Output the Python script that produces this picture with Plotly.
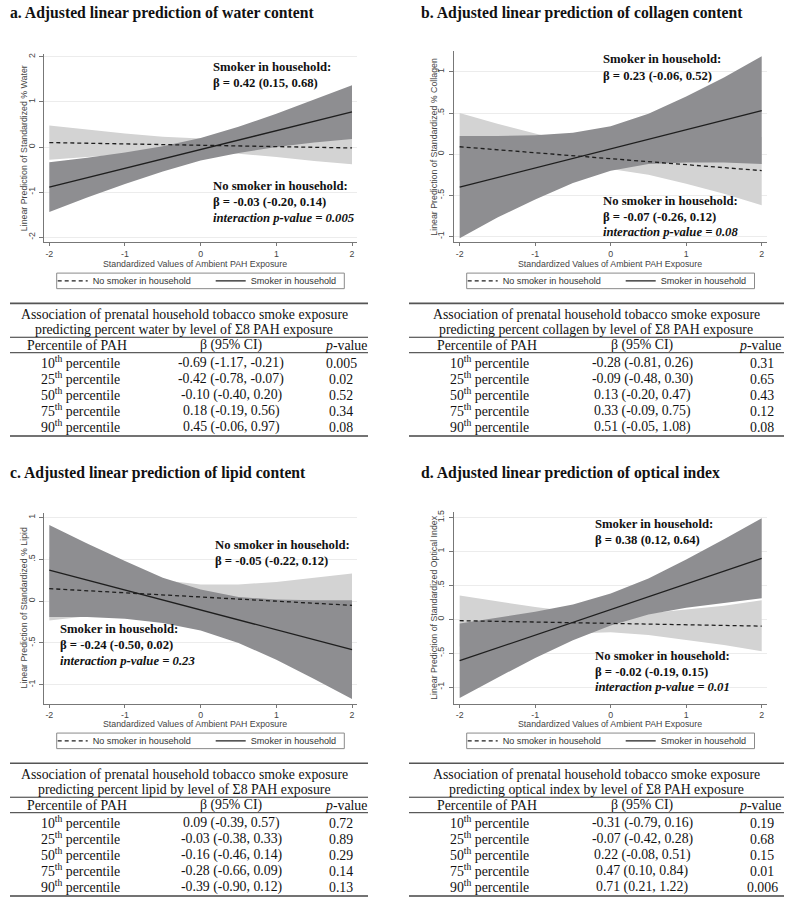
import plotly.graph_objects as go

W, H = 787, 897

# ---------------- data ----------------
PAH_X = [-2, -1.5, -1, -0.5, 0, 0.5, 1, 1.5, 2]
FIT_X = [-2, 2]

# a. water
water_smoker_fit = [-0.89, 0.78]
water_nosmoker_fit = [0.10, -0.02]
water_smoker_hi = [-0.34, -0.24, -0.12, 0.02, 0.20, 0.45, 0.74, 1.06, 1.37]
water_smoker_lo = [-1.44, -1.12, -0.82, -0.54, -0.30, -0.13, 0.00, 0.10, 0.18]
water_nosmoker_hi = [0.48, 0.39, 0.30, 0.23, 0.19, 0.20, 0.24, 0.30, 0.34]
water_nosmoker_lo = [-0.28, -0.22, -0.16, -0.12, -0.11, -0.15, -0.22, -0.31, -0.38]

# b. collagen
collagen_smoker_fit = [-0.40, 0.53]
collagen_nosmoker_fit = [0.09, -0.20]
collagen_smoker_hi = [0.22, 0.22, 0.23, 0.26, 0.34, 0.49, 0.70, 0.93, 1.19]
collagen_smoker_lo = [-1.02, -0.77, -0.55, -0.35, -0.20, -0.12, -0.10, -0.10, -0.12]
collagen_nosmoker_hi = [0.50, 0.37, 0.25, 0.14, 0.07, 0.06, 0.10, 0.16, 0.21]
collagen_nosmoker_lo = [-0.32, -0.27, -0.21, -0.17, -0.18, -0.25, -0.36, -0.48, -0.62]

# c. lipid
lipid_smoker_fit = [0.37, -0.58]
lipid_nosmoker_fit = [0.15, -0.05]
lipid_smoker_hi = [0.91, 0.69, 0.48, 0.28, 0.14, 0.05, 0.02, 0.01, 0.01]
lipid_smoker_lo = [-0.19, -0.19, -0.21, -0.26, -0.35, -0.50, -0.70, -0.93, -1.17]
lipid_nosmoker_hi = [0.53, 0.43, 0.33, 0.25, 0.20, 0.20, 0.23, 0.28, 0.33]
lipid_nosmoker_lo = [-0.23, -0.18, -0.13, -0.10, -0.10, -0.15, -0.23, -0.33, -0.43]

# d. optical index
optical_smoker_fit = [-0.61, 0.90]
optical_nosmoker_fit = [-0.02, -0.10]
optical_smoker_hi = [-0.06, 0.02, 0.11, 0.22, 0.38, 0.60, 0.88, 1.18, 1.49]
optical_smoker_lo = [-1.16, -0.86, -0.57, -0.31, -0.09, 0.07, 0.17, 0.24, 0.31]
optical_nosmoker_hi = [0.35, 0.26, 0.18, 0.11, 0.07, 0.09, 0.14, 0.20, 0.28]
optical_nosmoker_lo = [-0.40, -0.32, -0.26, -0.21, -0.19, -0.23, -0.30, -0.38, -0.47]

# tick labels
ticks_water = [-2, -1, 0, 1, 2]
ticklabels_water = ["-2", "-1", "0", "1", "2"]
ticks_half = [-1, -0.5, 0, 0.5, 1]
ticklabels_half = ["-1", "-.5", "0", ".5", "1"]
ticks_optical = [-1, -0.5, 0, 0.5, 1, 1.5]
ticklabels_optical = ["-1", "-.5", "0", ".5", "1", "1.5"]
x_ticks = [-2, -1, 0, 1, 2]
x_ticklabels = ["-2", "-1", "0", "1", "2"]

# tables
percentiles = ["10", "25", "50", "75", "90"]
water_beta = [-0.69, -0.42, -0.10, 0.18, 0.45]
water_lo = [-1.17, -0.78, -0.40, -0.19, -0.06]
water_hi = [-0.21, -0.07, 0.20, 0.56, 0.97]
water_p = ["0.005", "0.02", "0.52", "0.34", "0.08"]
collagen_beta = [-0.28, -0.09, 0.13, 0.33, 0.51]
collagen_lo = [-0.81, -0.48, -0.20, -0.09, -0.05]
collagen_hi = [0.26, 0.30, 0.47, 0.75, 1.08]
collagen_p = ["0.31", "0.65", "0.43", "0.12", "0.08"]
lipid_beta = [0.09, -0.03, -0.16, -0.28, -0.39]
lipid_lo = [-0.39, -0.38, -0.46, -0.66, -0.90]
lipid_hi = [0.57, 0.33, 0.14, 0.09, 0.12]
lipid_p = ["0.72", "0.89", "0.29", "0.14", "0.13"]
optical_beta = [-0.31, -0.07, 0.22, 0.47, 0.71]
optical_lo = [-0.79, -0.42, -0.08, 0.10, 0.21]
optical_hi = [0.16, 0.28, 0.51, 0.84, 1.22]
optical_p = ["0.19", "0.68", "0.15", "0.01", "0.006"]

# ---------------- styling ----------------
DARK = "#8e8e91"
LIGHT = "#d3d3d3"
LINE = "#1e1e1e"
AXC = "#777777"
SANS = "Liberation Sans, Arial, sans-serif"
SERIF = "Liberation Serif, Times New Roman, serif"


def px(v):
    return v / W


def py(v):
    return 1 - v / H


LEFT_TABLE = dict(x0=10, x1=368, tc=184, c1=80, c2=231, c3h=346, c3v=341)
RIGHT_TABLE = dict(x0=409, x1=784, tc=596, c1=490, c2=642, c3h=760, c3v=762)

panels = [
    dict(title="a. Adjusted linear prediction of water content",
         ylab="Linear Prediction of Standardized % Water",
         sm_fit=water_smoker_fit, ns_fit=water_nosmoker_fit,
         sm_hi=water_smoker_hi, sm_lo=water_smoker_lo,
         ns_hi=water_nosmoker_hi, ns_lo=water_nosmoker_lo,
         yt=ticks_water, ytl=ticklabels_water,
         beta=water_beta, lo=water_lo, hi=water_hi, p=water_p, outcome="percent water",
         tx=8, xt=195, oy=0, lg=(56.7, 344.3), tb=LEFT_TABLE,
         xdom=(44.3, 357.3), ydom=(51.7, 240.7),
         xr=[-2.066, 2.07], yr=[-2.11, 2.073],
         notes=[(210.7, 65, "<b>Smoker in household:</b>"),
                (210.7, 81, "<b>β = 0.42 (0.15, 0.68)</b>"),
                (210.7, 184.3, "<b>No smoker in household:</b>"),
                (210.7, 200.5, "<b>β = -0.03 (-0.20, 0.14)</b>"),
                (210.7, 216.7, "<b><i>interaction p-value = 0.005</i></b>")]),
    dict(title="b. Adjusted linear prediction of collagen content",
         ylab="Linear Prediction of Standardized % Collagen",
         sm_fit=collagen_smoker_fit, ns_fit=collagen_nosmoker_fit,
         sm_hi=collagen_smoker_hi, sm_lo=collagen_smoker_lo,
         ns_hi=collagen_nosmoker_hi, ns_lo=collagen_nosmoker_lo,
         yt=ticks_half, ytl=ticklabels_half,
         beta=collagen_beta, lo=collagen_lo, hi=collagen_hi, p=collagen_p, outcome="percent collagen",
         tx=419, xt=610, oy=0, lg=(466.7, 754.5), tb=RIGHT_TABLE,
         xdom=(454, 767.3), ydom=(49.3, 240.7),
         xr=[-2.075, 2.074], yr=[-1.069, 1.251],
         notes=[(600.7, 57.3, "<b>Smoker in household:</b>"),
                (600.7, 74, "<b>β = 0.23 (-0.06, 0.52)</b>"),
                (600.7, 199, "<b>No smoker in household:</b>"),
                (600.7, 215, "<b>β = -0.07 (-0.26, 0.12)</b>"),
                (600.7, 230.7, "<b><i>interaction p-value = 0.08</i></b>")]),
    dict(title="c. Adjusted linear prediction of lipid content",
         ylab="Linear Prediction of Standardized % Lipid",
         sm_fit=lipid_smoker_fit, ns_fit=lipid_nosmoker_fit,
         sm_hi=lipid_smoker_hi, sm_lo=lipid_smoker_lo,
         ns_hi=lipid_nosmoker_hi, ns_lo=lipid_nosmoker_lo,
         yt=ticks_half, ytl=ticklabels_half,
         beta=lipid_beta, lo=lipid_lo, hi=lipid_hi, p=lipid_p, outcome="percent lipid",
         tx=8, xt=195, oy=461, lg=(56.7, 344.3), tb=LEFT_TABLE,
         xdom=(44.3, 357.3), ydom=(511.7, 703.3),
         xr=[-2.066, 2.07], yr=[-1.227, 1.06],
         notes=[(213.3, 544.3, "<b>No smoker in household:</b>"),
                (213.3, 560, "<b>β = -0.05 (-0.22, 0.12)</b>"),
                (57.7, 628.3, "<b>Smoker in household:</b>"),
                (57.7, 644, "<b>β = -0.24 (-0.50, 0.02)</b>"),
                (57.7, 660, "<b><i>interaction p-value = 0.23</i></b>")]),
    dict(title="d. Adjusted linear prediction of optical index",
         ylab="Linear Prediction of Standardized Optical Index",
         sm_fit=optical_smoker_fit, ns_fit=optical_nosmoker_fit,
         sm_hi=optical_smoker_hi, sm_lo=optical_smoker_lo,
         ns_hi=optical_nosmoker_hi, ns_lo=optical_nosmoker_lo,
         yt=ticks_optical, ytl=ticklabels_optical,
         beta=optical_beta, lo=optical_lo, hi=optical_hi, p=optical_p, outcome="optical index",
         tx=419, xt=610, oy=461, lg=(466.7, 754.5), tb=RIGHT_TABLE,
         xdom=(454, 767.3), ydom=(511, 703.3),
         xr=[-2.075, 2.074], yr=[-1.244, 1.584],
         notes=[(593.3, 523.3, "<b>Smoker in household:</b>"),
                (593.3, 539.3, "<b>β = 0.38 (0.12, 0.64)</b>"),
                (593.3, 655, "<b>No smoker in household:</b>"),
                (593.3, 671, "<b>β = -0.02 (-0.19, 0.15)</b>"),
                (593.3, 686.7, "<b><i>interaction p-value = 0.01</i></b>")]),
]

fig = go.Figure()
annotations = []
shapes = []
layout = {}

for i, pnl in enumerate(panels):
    n = "" if i == 0 else str(i + 1)
    xa, ya = "x" + n, "y" + n
    leg = "legend" + n
    # CI bands
    fig.add_trace(go.Scatter(x=PAH_X + PAH_X[::-1], y=pnl["ns_hi"] + pnl["ns_lo"][::-1],
                             fill="toself", fillcolor=LIGHT, line=dict(width=0),
                             mode="lines", showlegend=False, hoverinfo="skip",
                             xaxis=xa, yaxis=ya))
    fig.add_trace(go.Scatter(x=PAH_X + PAH_X[::-1], y=pnl["sm_hi"] + pnl["sm_lo"][::-1],
                             fill="toself", fillcolor=DARK, line=dict(width=0),
                             mode="lines", showlegend=False, hoverinfo="skip",
                             xaxis=xa, yaxis=ya))
    fig.add_trace(go.Scatter(x=FIT_X, y=pnl["ns_fit"], mode="lines",
                             line=dict(color=LINE, width=1.3, dash="4px,3px"),
                             name="No smoker in household", legend=leg,
                             xaxis=xa, yaxis=ya))
    fig.add_trace(go.Scatter(x=FIT_X, y=pnl["sm_fit"], mode="lines",
                             line=dict(color=LINE, width=1.3),
                             name="Smoker in household", legend=leg,
                             xaxis=xa, yaxis=ya))

    common_ax = dict(showline=True, linecolor=AXC, linewidth=1, ticks="outside",
                     tickcolor=AXC, zeroline=False,
                     tickfont=dict(family=SANS, size=8.8, color="#444"))
    layout["xaxis" + n] = dict(domain=[px(pnl["xdom"][0]), px(pnl["xdom"][1])],
                               range=pnl["xr"], anchor=ya, showgrid=False, ticklen=3,
                               tickvals=x_ticks, ticktext=x_ticklabels, **common_ax)
    layout["yaxis" + n] = dict(domain=[py(pnl["ydom"][1]), py(pnl["ydom"][0])],
                               range=pnl["yr"], anchor=xa, showgrid=True,
                               gridcolor="#ececec", gridwidth=1, ticklen=4,
                               tickvals=pnl["yt"], ticktext=pnl["ytl"], tickangle=-90,
                               ticklabelstandoff=1, **common_ax)

    oy = pnl["oy"]
    # panel title
    annotations.append(dict(x=px(pnl["tx"]), y=py(11 + oy), xref="paper", yref="paper",
                            text="<b>" + pnl["title"] + "</b>", showarrow=False,
                            xanchor="left", yanchor="middle",
                            font=dict(family=SERIF, size=15.7, color="#111")))
    # axis titles
    ycenter = (pnl["ydom"][0] + pnl["ydom"][1]) / 2
    annotations.append(dict(x=px(pnl["xdom"][0] - 20), y=py(ycenter), xref="paper", yref="paper",
                            text=pnl["ylab"], textangle=-90, showarrow=False,
                            xanchor="center", yanchor="middle",
                            font=dict(family=SANS, size=8.8, color="#444")))
    annotations.append(dict(x=px(pnl["xt"]), y=py(262.5 + oy), xref="paper", yref="paper",
                            text="Standardized Values of Ambient PAH Exposure", showarrow=False,
                            xanchor="center", yanchor="middle",
                            font=dict(family=SANS, size=8.8, color="#444")))
    # in-plot notes
    for (nx, ny, t) in pnl["notes"]:
        annotations.append(dict(x=px(nx), y=py(ny), xref="paper", yref="paper", text=t,
                                showarrow=False, xanchor="left", yanchor="middle",
                                font=dict(family=SERIF, size=12.7, color="#111")))
    # legend box + legend
    lx0, lx1 = pnl["lg"]
    ly0, ly1 = 271.7 + oy, 287.3 + oy
    shapes.append(dict(type="rect", xref="paper", yref="paper", x0=px(lx0), x1=px(lx1),
                       y0=py(ly1), y1=py(ly0), line=dict(color="#8a8a8a", width=1),
                       fillcolor="rgba(0,0,0,0)"))
    layout[leg] = dict(x=px(lx0 - 4), y=py((ly0 + ly1) / 2), xanchor="left", yanchor="middle",
                       orientation="h", bgcolor="rgba(0,0,0,0)", borderwidth=0,
                       font=dict(family=SANS, size=9.1, color="#333"),
                       entrywidth=113, entrywidthmode="pixels", itemwidth=30,
                       traceorder="normal")

    # table
    tb = pnl["tb"]
    rule_y = [(302, 1.6, "#555"), (336, 1, "#333"), (351.5, 1, "#333"), (435, 1.6, "#444")]
    for (ry, rw, rc) in rule_y:
        shapes.append(dict(type="line", xref="paper", yref="paper", x0=px(tb["x0"]), x1=px(tb["x1"]),
                           y0=py(ry + oy), y1=py(ry + oy), line=dict(color=rc, width=rw)))
    tfont = dict(family=SERIF, size=13.8, color="#111")
    annotations.append(dict(x=px(tb["tc"]), y=py(313 + oy), xref="paper", yref="paper",
                            text="Association of prenatal household tobacco smoke exposure",
                            showarrow=False, xanchor="center", yanchor="middle", font=tfont))
    annotations.append(dict(x=px(tb["tc"]), y=py(328 + oy), xref="paper", yref="paper",
                            text="predicting " + pnl["outcome"] + " by level of Σ8 PAH exposure",
                            showarrow=False, xanchor="center", yanchor="middle", font=tfont))
    for (cx, t) in [(tb["c1"] - 3, "Percentile of PAH"), (tb["c2"], "β (95% CI)"),
                    (tb["c3h"], "<i>p</i>-value")]:
        annotations.append(dict(x=px(cx), y=py(344 + oy), xref="paper", yref="paper", text=t,
                                showarrow=False, xanchor="center", yanchor="middle", font=tfont))
    row_y = [362, 378, 394, 410, 426]
    for k in range(5):
        ry = row_y[k] + oy
        annotations.append(dict(x=px(tb["c1"]), y=py(ry - 1), xref="paper", yref="paper",
                                text=percentiles[k] + "<sup>th</sup> percentile",
                                showarrow=False, xanchor="center", yanchor="middle", font=tfont))
        annotations.append(dict(x=px(tb["c2"]), y=py(ry), xref="paper", yref="paper",
                                text="%.2f (%.2f, %.2f)" % (pnl["beta"][k], pnl["lo"][k], pnl["hi"][k]),
                                showarrow=False, xanchor="center", yanchor="middle", font=tfont))
        annotations.append(dict(x=px(tb["c3v"]), y=py(ry), xref="paper", yref="paper",
                                text=pnl["p"][k],
                                showarrow=False, xanchor="center", yanchor="middle", font=tfont))

fig.update_layout(width=W, height=H, margin=dict(l=0, r=0, t=0, b=0),
                  paper_bgcolor="white", plot_bgcolor="white",
                  annotations=annotations, shapes=shapes, **layout)

fig.write_html("out.html", config={"displayModeBar": False},
               post_script="document.body.style.margin='0';document.body.style.overflow='hidden';")
